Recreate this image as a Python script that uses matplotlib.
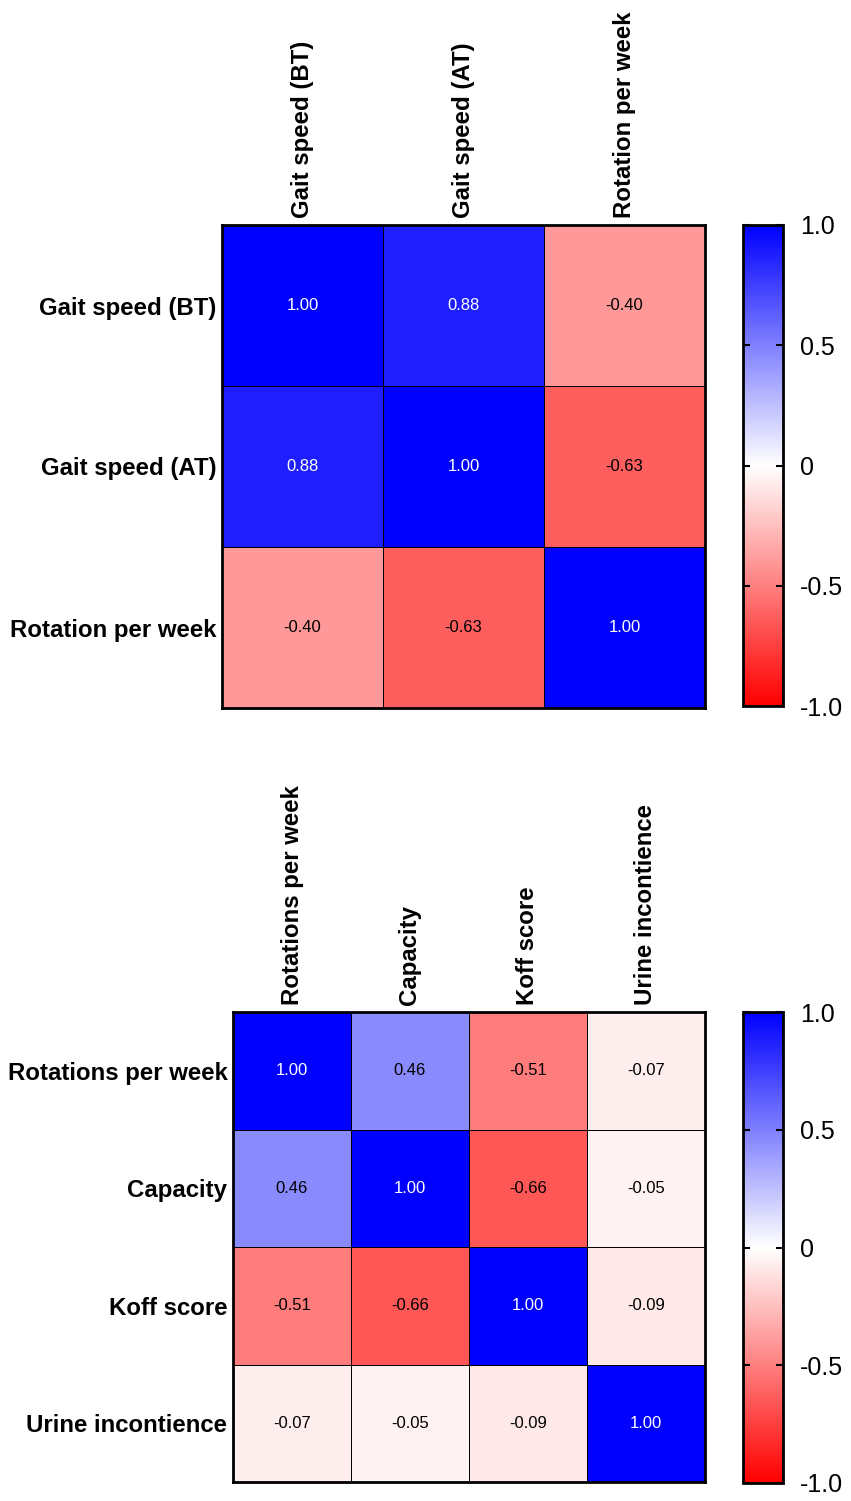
import numpy as np
import matplotlib
matplotlib.use("Agg")
import matplotlib.pyplot as plt
from matplotlib.colors import LinearSegmentedColormap

plt.rcParams['font.family'] = ['Liberation Sans', 'DejaVu Sans']

# data
labels_top = ['Gait speed (BT)', 'Gait speed (AT)', 'Rotation per week']
corr_top = [[1.00, 0.88, -0.40],
            [0.88, 1.00, -0.63],
            [-0.40, -0.63, 1.00]]

labels_bottom = ['Rotations per week', 'Capacity', 'Koff score', 'Urine incontience']
corr_bottom = [[1.00, 0.46, -0.51, -0.07],
               [0.46, 1.00, -0.66, -0.05],
               [-0.51, -0.66, 1.00, -0.09],
               [-0.07, -0.05, -0.09, 1.00]]

cbar_ticks = [-1.0, -0.5, 0, 0.5, 1.0]
cbar_labels = ['-1.0', '-0.5', '0', '0.5', '1.0']

cmap = LinearSegmentedColormap.from_list('rwb', ['#FF0000', '#FFFFFF', '#0000FF'])

W, H = 851, 1501
fig = plt.figure(figsize=(W / 100, H / 100), dpi=100)


def px_axes(x0, y0, x1, y1):
    return fig.add_axes([x0 / W, 1 - y1 / H, (x1 - x0) / W, (y1 - y0) / H])


def heatmap(ax, cax, data, labels):
    data = np.array(data)
    n = data.shape[0]
    mesh = ax.pcolormesh(data, cmap=cmap, vmin=-1, vmax=1,
                         edgecolors='black', linewidth=0.72)
    ax.set_xlim(0, n)
    ax.set_ylim(n, 0)
    for i in range(n):
        for j in range(n):
            v = data[i, j]
            ax.text(j + 0.5, i + 0.5, f'{v:.2f}', ha='center', va='center',
                    fontsize=12, color='white' if v > 0.5 else 'black')
    ax.set_xticks(np.arange(n) + 0.5)
    ax.set_xticklabels(labels, rotation=90, fontsize=17.3, fontweight='bold')
    ax.set_yticks(np.arange(n) + 0.5)
    ax.set_yticklabels(labels, fontsize=17.3, fontweight='bold')
    ax.xaxis.tick_top()
    ax.tick_params(axis='y', length=0, pad=4)
    ax.tick_params(axis='x', length=0, pad=5)
    for s in ax.spines.values():
        s.set_linewidth(2)

    cb = fig.colorbar(mesh, cax=cax, ticks=cbar_ticks)
    cb.ax.set_yticklabels(cbar_labels, fontsize=18)
    cb.ax.tick_params(direction='in', length=5, width=1.5, left=True, right=True, pad=12)
    cb.outline.set_linewidth(2)


ax1 = px_axes(222, 225, 705, 708)
cax1 = px_axes(743, 225, 783, 706)
heatmap(ax1, cax1, corr_top, labels_top)

ax2 = px_axes(233, 1012, 705, 1482)
cax2 = px_axes(743, 1012, 783, 1483)
heatmap(ax2, cax2, corr_bottom, labels_bottom)

fig.savefig('out.png', dpi=100)
